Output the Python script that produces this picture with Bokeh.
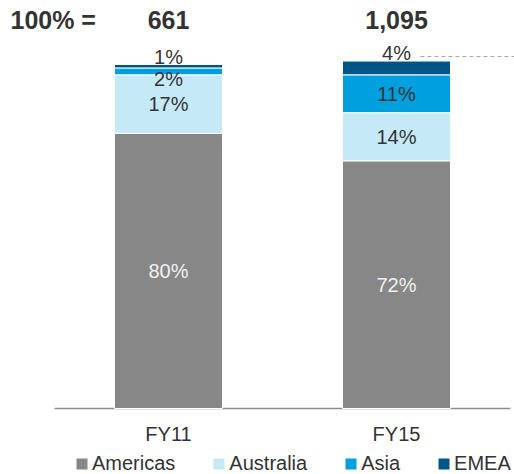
import numpy as np
from bokeh.plotting import figure
from bokeh.models import ColumnDataSource, Range1d, Legend, LegendItem
from bokeh.core.properties import value
from bokeh.embed import file_html
from bokeh.resources import INLINE

# ---- data ----
categories = ["FY11", "FY15"]
totals = ["661", "1,095"]
series_names = ["Americas", "Australia", "Asia", "EMEA"]
americas = [80, 72]
australia = [17, 14]
asia = [2, 11]
emea = [1, 4]

colors = ["#878787", "#c6e9f8", "#00a0de", "#005587"]
FONT_NAME = "Liberation Sans"
FONT = value(FONT_NAME)

xs = np.arange(len(categories), dtype=float)
data = {"x": xs, "Americas": americas, "Australia": australia, "Asia": asia, "EMEA": emea}
source = ColumnDataSource(data)

p = figure(width=514, height=474, output_backend="svg", toolbar_location=None,
           x_range=Range1d(-0.7368, 1.5175), y_range=Range1d(-19.19, 118.6),
           x_axis_type=None, y_axis_type=None, min_border=0)
p.outline_line_color = None
p.xgrid.visible = False
p.ygrid.visible = False
p.background_fill_color = "white"

bar_w = 0.474
# baseline axis line
p.segment(x0=[xs[0] - 0.5], x1=[xs[-1] + 0.5], y0=[0], y1=[0], line_color="#8c8c8c", line_width=1.5)

renderers = p.vbar_stack(series_names, x="x", width=bar_w, color=colors, source=source,
                         line_color="white", line_width=1)

# ---- segment labels ----
vals = np.array([americas, australia, asia, emea], dtype=float)
cum = np.cumsum(vals, axis=0)
lx, ly, lt, lc = [], [], [], []
for si in range(len(series_names)):
    for ci in range(len(categories)):
        v = vals[si, ci]
        top = cum[si, ci]
        mid = top - v / 2
        if si == len(series_names) - 1 and v < 5:
            y = cum[-1, ci] + 2.3
        elif v < 5:
            y = mid - 2.2
        else:
            y = mid
        lx.append(xs[ci]); ly.append(y); lt.append(f"{int(v)}%")
        lc.append("#f0f0f0" if si == 0 else "#333333")
lsrc = ColumnDataSource(dict(x=lx, y=ly, t=lt, c=lc))
p.text(x="x", y="y", text="t", text_color="c", source=lsrc, text_font=FONT,
       text_font_size="20px", text_align="center", text_baseline="middle")

# dashed leader next to FY15 EMEA label
y_lead = cum[-1, 1] + 1.3
p.segment(x0=[xs[1] + 0.105], x1=[xs[1] + 0.52], y0=[y_lead], y1=[y_lead],
          line_color="#a6a6a6", line_width=1, line_dash="4 3")

# ---- header totals ----
p.text(x=[-0.693], y=[112.8], text=["100% ="], text_font=FONT, text_font_size="25px",
       text_font_style="bold", text_color="#333333", text_align="left", text_baseline="middle")
p.text(x=xs, y=[112.8] * len(xs), text=totals, text_font=FONT, text_font_size="25px",
       text_font_style="bold", text_color="#333333", text_align="center", text_baseline="middle")

# ---- category labels ----
p.text(x=xs, y=[-7.3] * len(xs), text=categories, text_font=FONT, text_font_size="20px",
       text_color="#333333", text_align="center", text_baseline="middle")

# ---- legend ----
legend = Legend(items=[LegendItem(label=n, renderers=[r]) for n, r in zip(series_names, renderers)],
                orientation="horizontal", location=(74, -1), glyph_width=15, glyph_height=15,
                label_standoff=3, spacing=36, padding=0, margin=0,
                label_text_font=FONT_NAME, label_text_font_size="20px", label_text_color="#333333",
                border_line_color=None, background_fill_alpha=0)
p.add_layout(legend)

open("out.html", "w").write(file_html(p, INLINE))
